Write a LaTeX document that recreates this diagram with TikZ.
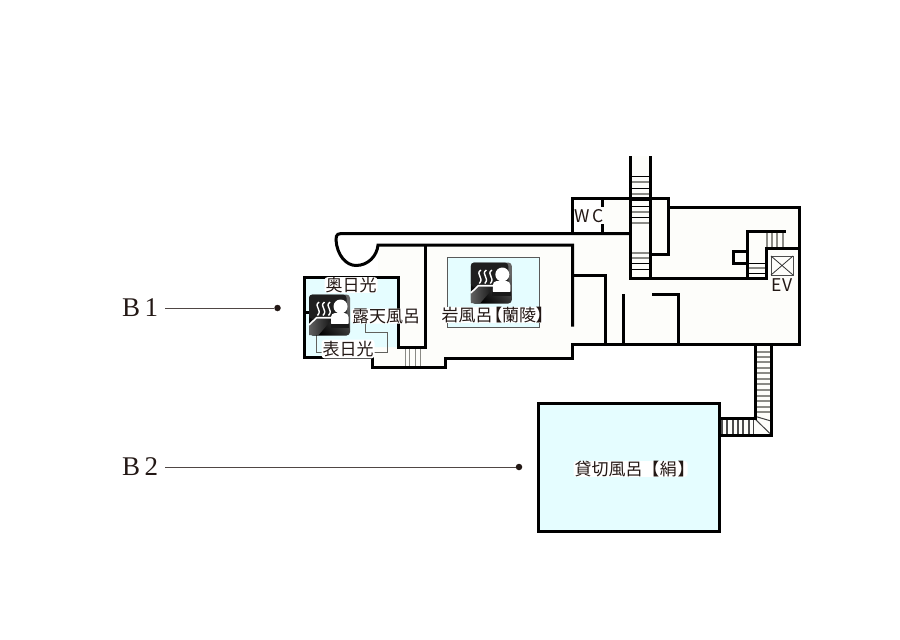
\documentclass[tikz,border=0pt]{standalone}
\usepackage{fontspec}
\setmainfont{Liberation Serif}
\newfontfamily\jpfont{Noto Sans CJK JP}
\newfontfamily\jpbr[RawFeature=+palt]{Noto Sans CJK JP}
\usetikzlibrary{calc}
\definecolor{ink}{HTML}{231815}
\definecolor{floorc}{HTML}{FDFDFA}
\definecolor{bath}{HTML}{E5FDFF}
\definecolor{stepgray}{HTML}{8A8A85}
\tikzset{
  wall/.style={line width=3pt,draw=black,line cap=rect,line join=miter},
  thinwall/.style={line width=0.9pt,draw=stepgray!70!black},
  stepline/.style={line width=1.3pt,draw=stepgray},
  blackstep/.style={line width=1pt,draw=black},
  lead/.style={line width=1pt,draw=ink!80},
  dotn/.style={circle,fill=ink,inner sep=0pt,minimum size=6.5pt},
  floorname/.style={font=\fontsize{27}{27}\selectfont,text=ink,inner sep=0pt},
  jp/.style={font=\jpfont\fontsize{17}{17}\selectfont,text=ink,fill=white,rounded corners=3pt,inner xsep=1pt,inner ysep=0pt},
  plain/.style={font=\jpfont\fontsize{17.5}{17.5}\selectfont,text=ink,inner sep=0pt},
  pics/onsen/.style={code={
    \shade[rounded corners=3.5pt,left color=black!60,right color=black,shading angle=-45] (-20.5,-20.5) rectangle (20.5,20.5);
    \fill[rounded corners=3.5pt,black!88] (-20.5,-20.5) rectangle (17,4);
    \shade[left color=black!62,right color=black!92] (-20.5,20) -- (-20.5,11) -- (-13,3.5) -- (2,3.5) -- (2,5) -- (-11,20) -- cycle;
    \draw[white,line width=1.6pt] (-20.5,10) -- (-13,2.7) -- (2,2.7);
    \foreach \sx in {-10.5,-5,0.5}{
      \draw[white,line width=1.4pt] (\sx,-13) .. controls (\sx-6,-8.5) and (\sx+4,-5.5) .. (\sx-1.5,0.5);
    }
    \fill[white] (11,-8.5) circle (7);
    \fill[white,rounded corners=4pt] (1.5,-2) rectangle (19,12);
    \fill[black!90] (1,8.7) rectangle (19.5,13);
  }}
}
\begin{document}
\begin{tikzpicture}[x=1pt,y=-1pt]
\useasboundingbox (0,0) rectangle (900,640);
% floor fills
\fill[floorc] (378,245) -- (572.5,245) -- (572.5,198) -- (668.5,198) -- (668.5,207) -- (799,207) -- (799,344) -- (572.5,344) -- (572.5,358) -- (445,358) -- (445,367.5) -- (372.5,367.5) -- (372.5,347) -- (398.5,347) -- (398.5,277) -- (378,277) -- cycle;
\fill[floorc] (630,156) rectangle (650,278);
\fill[floorc] (755,344) rectangle (771,435);
\fill[floorc] (719,418) rectangle (771,435);
\fill[white] (572.5,198) rectangle (602,233.5);
% bath areas
\fill[bath] (304,277) -- (398.5,277) -- (398.5,347) -- (372.5,347) -- (372.5,357) -- (304,357) -- cycle;
\fill[bath] (447.7,257.7) rectangle (539,327.7);
\draw[line width=1pt,draw=black!65] (447.7,327.7) -- (447.7,257.7) -- (539,257.7) -- (539,327.7) -- cycle;
\fill[bath] (538.5,403.5) rectangle (719,531);
% thin inner lines of the outdoor bath
\draw[thinwall] (316,330) -- (316,352) -- (387,352) -- (387,332) -- (365,332) -- (365,322);
% stairs
\foreach \y in {176,188,200,206,217,263,269}{\draw[blackstep] (631,\y) -- (650,\y);}
\foreach \y in {182,194,212,223,253,258}{\draw[stepline] (631,\y) -- (650,\y);}
\foreach \x in {405,409.3,415,420.7}{\draw[stepline,line width=1pt] (\x,348) -- (\x,367);}
\foreach \x in {767,772,777,783}{\draw[stepline] (\x,232) -- (\x,247);}
\foreach \y in {263,273}{\draw[blackstep] (748,\y) -- (766,\y);}
\draw[stepline] (748,268) -- (766,268);
\foreach \y in {352,357,362,368,373,379,384,390,396,401,407,412}{\draw[stepline,line width=1.1pt] (755,\y) -- (771,\y);}
\foreach \x in {722,727,733,738,743,749}{\draw[stepline,draw=black!70,line width=1.1pt] (\x,419) -- (\x,434);}
\draw[black!75,line width=1pt] (754,418) -- (771,434.5);
\draw[black!75,line width=1pt] (754,416) -- (771,421);
\draw[black!75,line width=1pt] (753.5,418) -- (753.5,434);
% walls: lower and left block
\draw[wall] (630,233.5) -- (345,233.5) .. controls (338,233.5) and (336,233.5) .. (336,240) .. controls (337,255) and (346,265.5) .. (356,265.5) .. controls (368,265.5) and (377,256) .. (378,245) -- (572.5,245) -- (572.5,325);
\draw[wall] (425.8,245) -- (425.8,347) -- (398.5,347) -- (398.5,277) -- (304,277) -- (304,357) -- (372.5,357) -- (372.5,367.5) -- (445,367.5) -- (445,358) -- (572.5,358) -- (572.5,344) -- (799,344) -- (799,207) -- (668.5,207);
\draw[wall] (304,312) -- (312,312);
\draw[wall] (572.5,275) -- (605,275) -- (605,344);
\draw[wall] (623.5,295) -- (623.5,344);
\draw[wall] (653,294.5) -- (678.5,294.5) -- (678.5,344);
% walls: WC and main stair
\draw[wall] (572.5,233.5) -- (572.5,198) -- (668.5,198) -- (668.5,254.5) -- (650,254.5);
\draw[wall] (602,198) -- (602,205);
\draw[wall] (602,225) -- (602,233.5);
\draw[wall,line cap=butt] (630.5,156) -- (630.5,278) -- (747.5,278) -- (747.5,231) -- (786,231);
\draw[wall,line cap=butt] (650,156) -- (650,278);
\draw[wall] (747.5,278) -- (766,278) -- (766,248) -- (799,248);
\draw[wall] (747,251) -- (733,251) -- (733,263) -- (747,263);
% EV box
\draw[line width=1pt,draw=black!70] (771,256) rectangle (793,275);
\draw[line width=0.8pt,draw=black!80] (771,256) -- (793,275) (793,256) -- (771,275);
% lower stair and private bath
\draw[wall] (755,344) -- (755,418.3) -- (719,418.3);
\draw[wall] (771,344) -- (771,435) -- (719,435);
\draw[wall,draw=black] (538.5,403.5) rectangle (719,531);
% leader lines
\node[floorname,anchor=west] (b1) at (122,307.5) {B\,1};
\node[floorname,anchor=west] (b2) at (122,467) {B\,2};
\coordinate (b1a) at (165,308);
\coordinate (b2a) at (165,467);
\node[dotn] (b1d) at (277.5,308) {};
\node[dotn] (b2d) at (519,467) {};
\draw[lead] (b1a) -- (b1d);
\draw[lead] (b2a) -- (b2d);
% icons
\pic at (329.5,315) {onsen};
\pic at (491.3,283) {onsen};
% labels
\node[jp] (oku) at (351,285) {奥日光};
\node[jp] (roten) at (386,316) {露天風呂};
\node[jp,inner ysep=1.5pt] (omote) at (348,349) {表日光};
\node[jp] (iwa) at (493,315) {岩風呂{\jpbr\hspace{1pt}【}蘭陵{\jpbr 】}};
\node[jp] (kashi) at (630.5,469) {貸切風呂\hspace{8pt}{\jpbr 【}\hspace{1pt}絹\hspace{1pt}{\jpbr 】}};
\node[plain] (wc) at (589,216.5) {W\,C};
\node[plain] (ev) at (782,285.5) {EV};
\end{tikzpicture}
\end{document}
